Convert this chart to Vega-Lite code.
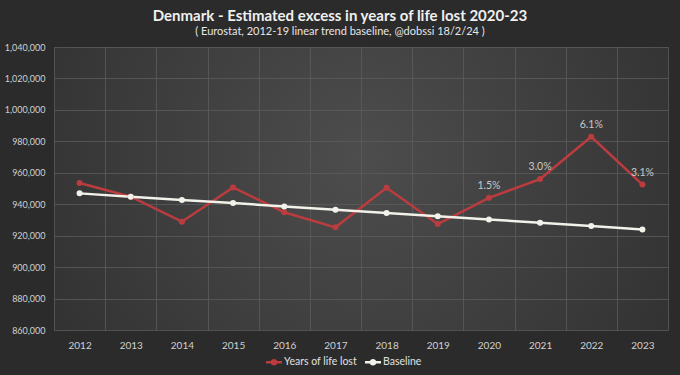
{
  "$schema": "https://vega.github.io/schema/vega-lite/v6.json",
  "width": 614,
  "height": 283,
  "autosize": "none",
  "padding": {"left": 54, "top": 47, "right": 12, "bottom": 45},
  "background": "#2b2b2b",
  "title": {
    "text": "Denmark - Estimated excess in years of life lost 2020-23",
    "subtitle": "( Eurostat, 2012-19 linear trend baseline, @dobssi 18/2/24 )",
    "anchor": "middle",
    "dx": -21,
    "offset": 6,
    "font": "Lato",
    "fontSize": 15,
    "fontWeight": "bold",
    "color": "#f0f0f0",
    "subtitleFont": "Lato",
    "subtitleFontSize": 11,
    "subtitleColor": "#e6e6e6",
    "subtitlePadding": 2
  },
  "config": {
    "view": {
      "stroke": null,
      "fill": {
        "gradient": "radial",
        "x1": 0.5, "y1": 0.45, "x2": 0.5, "y2": 0.45, "r1": 0, "r2": 0.75,
        "stops": [
          {"offset": 0, "color": "#4d4d4d"},
          {"offset": 1, "color": "#2a2a2a"}
        ]
      }
    },
    "font": "Lato"
  },
  "data": {
    "values": [
      {"year": "2012", "series": "Years of life lost", "value": 953500},
      {"year": "2013", "series": "Years of life lost", "value": 944800},
      {"year": "2014", "series": "Years of life lost", "value": 928900},
      {"year": "2015", "series": "Years of life lost", "value": 950700},
      {"year": "2016", "series": "Years of life lost", "value": 934900},
      {"year": "2017", "series": "Years of life lost", "value": 925300},
      {"year": "2018", "series": "Years of life lost", "value": 950500},
      {"year": "2019", "series": "Years of life lost", "value": 927400},
      {"year": "2020", "series": "Years of life lost", "value": 944100, "label": "1.5%"},
      {"year": "2021", "series": "Years of life lost", "value": 956000, "label": "3.0%"},
      {"year": "2022", "series": "Years of life lost", "value": 982900, "label": "6.1%"},
      {"year": "2023", "series": "Years of life lost", "value": 952500, "label": "3.1%"},
      {"year": "2012", "series": "Baseline", "value": 946900},
      {"year": "2013", "series": "Baseline", "value": 944800},
      {"year": "2014", "series": "Baseline", "value": 942700},
      {"year": "2015", "series": "Baseline", "value": 940700},
      {"year": "2016", "series": "Baseline", "value": 938600},
      {"year": "2017", "series": "Baseline", "value": 936500},
      {"year": "2018", "series": "Baseline", "value": 934400},
      {"year": "2019", "series": "Baseline", "value": 932300},
      {"year": "2020", "series": "Baseline", "value": 930300},
      {"year": "2021", "series": "Baseline", "value": 928200},
      {"year": "2022", "series": "Baseline", "value": 926100},
      {"year": "2023", "series": "Baseline", "value": 924000}
    ]
  },
  "encoding": {
    "x": {
      "field": "year",
      "type": "ordinal",
      "scale": {"type": "band", "paddingInner": 0, "paddingOuter": 0},
      "axis": {
        "title": null,
        "labelAngle": 0,
        "labelColor": "#d0d0d0",
        "labelFontSize": 10,
        "labelPadding": 10,
        "ticks": false,
        "domain": false,
        "grid": true,
        "tickBand": "extent",
        "gridColor": "#5c5c5c",
        "gridWidth": 0.8
      }
    },
    "y": {
      "field": "value",
      "type": "quantitative",
      "scale": {"domain": [860000, 1040000], "nice": false, "zero": false},
      "axis": {
        "title": null,
        "values": [860000, 880000, 900000, 920000, 940000, 960000, 980000, 1000000, 1020000, 1040000],
        "format": ",d",
        "labelColor": "#d0d0d0",
        "labelFontSize": 9,
        "labelPadding": 9,
        "ticks": false,
        "domain": false,
        "gridColor": "#5c5c5c",
        "gridWidth": 0.8
      }
    }
  },
  "layer": [
    {
      "mark": {"type": "line", "strokeWidth": 2.5, "point": {"filled": true, "size": 36}},
      "encoding": {
        "color": {
          "field": "series",
          "type": "nominal",
          "scale": {"domain": ["Years of life lost", "Baseline"], "range": ["#bb3c3f", "#f2f1ea"]},
          "legend": {
            "title": null,
            "orient": "none",
            "legendX": 212,
            "legendY": 307,
            "direction": "horizontal",
            "labelColor": "#e0e0e0",
            "labelFontSize": 10.5,
            "labelOffset": 2,
            "symbolType": "M-1,-0.17H1V0.17H-1Z M-0.42,0A0.42,0.42 0 1,1 0.42,0A0.42,0.42 0 1,1 -0.42,0Z",
            "symbolSize": 256,
            "symbolStrokeWidth": 0,
            "columnPadding": 8,
            "encode": {
              "symbols": {
                "update": {
                  "fill": {"scale": "color", "field": "value"},
                  "fillOpacity": {"value": 1},
                  "strokeWidth": {"value": 0}
                }
              }
            }
          }
        },
        "order": {"field": "year"}
      }
    },
    {
      "mark": {"type": "text", "dy": -12, "fontSize": 10.5, "color": "#c8c8c8"},
      "transform": [{"filter": "isValid(datum.label)"}],
      "encoding": {"text": {"field": "label"}}
    }
  ]
}
